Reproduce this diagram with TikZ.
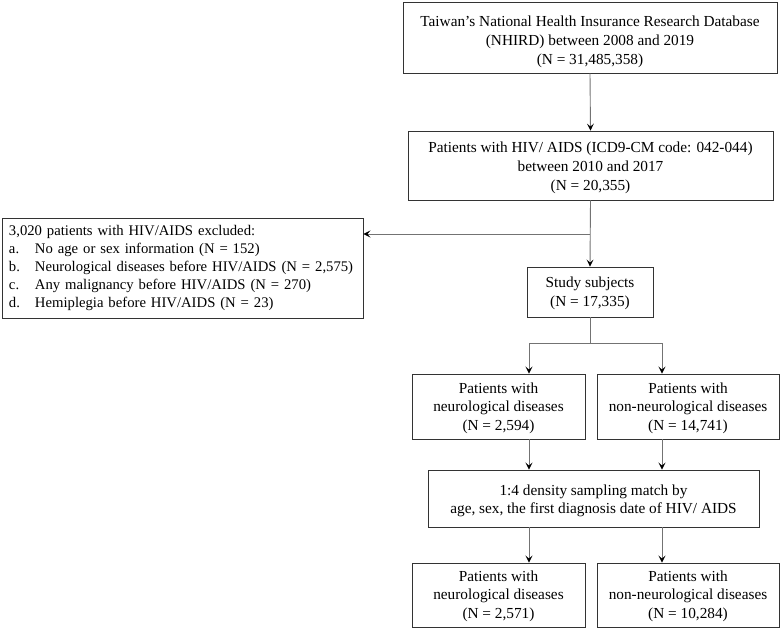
\documentclass[tikz,border=0pt]{standalone}
\usepackage{fontspec}
\setmainfont{Liberation Serif}
\usetikzlibrary{arrows.meta}
\newcommand{\topstrut}[1]{\rule{0pt}{#1pt}}
\tikzset{
  box/.style={draw=black!80, line width=0.9pt, inner sep=0pt, align=center,
    font=\fontsize{15.3}{19}\selectfont},
  conn/.style={draw=black!55, line width=0.9pt},
  arr/.style={conn, -{Stealth[length=7pt,width=7pt,inset=3pt,black]}}
}
\begin{document}
\begin{tikzpicture}[x=1pt,y=-1pt]
\useasboundingbox (0,0) rectangle (782,629);
\node[box, minimum width=374pt, minimum height=71pt] (db) at (590,37.5)
  {\topstrut{19.5}Taiwan’s National Health Insurance Research Database\\(NHIRD) between 2008 and 2019\\(N = 31,485,358)};
\node[box, minimum width=365pt, minimum height=69pt] (hiv) at (590.5,165.5)
  {\topstrut{15.5}Patients with HIV/ AIDS (ICD9-CM code: 042-044)\\between 2010 and 2017\\(N = 20,355)};
\node[box, minimum width=361pt, minimum height=100pt, text width=347pt, inner xsep=7pt, align=left,
  font=\fontsize{14.7}{17.8}\selectfont] (excl) at (182.5,268)
  {\mbox{3,020 patients with HIV/AIDS excluded:}\\
   \mbox{\makebox[26pt][l]{a.}No age or sex information (N = 152)}\\
   \mbox{\makebox[26pt][l]{b.}Neurological diseases before HIV/AIDS (N = 2,575)}\\
   \mbox{\makebox[26pt][l]{c.}Any malignancy before HIV/AIDS (N = 270)}\\
   \mbox{\makebox[26pt][l]{d.}Hemiplegia before HIV/AIDS (N = 23)}};
\node[box, minimum width=126pt, minimum height=50pt] (study) at (590,292)
  {\topstrut{12.5}Study subjects\\(N = 17,335)};
\node[box, minimum width=173pt, minimum height=65pt, font=\fontsize{15.3}{18.5}\selectfont] (neuA) at (498.5,406.5)
  {\topstrut{13.5}Patients with\\neurological diseases\\(N = 2,594)};
\node[box, minimum width=182pt, minimum height=65pt, font=\fontsize{15.3}{18.5}\selectfont] (nonA) at (688,406.5)
  {\topstrut{13.5}Patients with\\non-neurological diseases\\(N = 14,741)};
\node[box, minimum width=331pt, minimum height=57pt, font=\fontsize{15.3}{18.5}\selectfont] (match) at (593.5,498.5)
  {\topstrut{15.5}1:4 density sampling match by\\age, sex, the first diagnosis date of HIV/ AIDS};
\node[box, minimum width=173pt, minimum height=64pt, font=\fontsize{15.3}{18.5}\selectfont] (neuB) at (498.5,595)
  {\topstrut{12.5}Patients with\\neurological diseases\\(N = 2,571)};
\node[box, minimum width=182pt, minimum height=64pt, font=\fontsize{15.3}{18.5}\selectfont] (nonB) at (688,595)
  {\topstrut{12.5}Patients with\\non-neurological diseases\\(N = 10,284)};
% connectors
\coordinate (xl) at (529,0);
\coordinate (xr) at (662,0);
\coordinate (j1) at (590,234);
\coordinate (j2) at (590,343);
\draw[arr] (db.south) -- (hiv.north);
\draw[arr] (hiv.south) -- (study.north);
\draw[arr] (j1) -- (j1 -| excl.east);
\draw[conn] (study.south) -- (j2);
\draw[conn] (j2 -| xl) -- (j2 -| xr);
\draw[arr] (j2 -| xl) -- (xl |- neuA.north);
\draw[arr] (j2 -| xr) -- (xr |- nonA.north);
\draw[arr] (xl |- neuA.south) -- (xl |- match.north);
\draw[arr] (xr |- nonA.south) -- (xr |- match.north);
\draw[arr] (xl |- match.south) -- (xl |- neuB.north);
\draw[arr] (xr |- match.south) -- (xr |- nonB.north);
\end{tikzpicture}
\end{document}
